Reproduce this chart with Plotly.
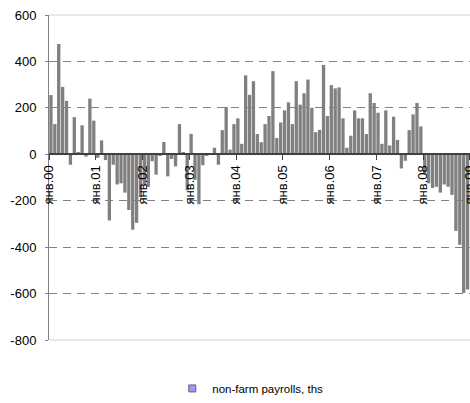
import numpy as np
import plotly.graph_objects as go

# Monthly change in US non-farm payrolls, thousands (Jan 2000 - Dec 2008)
payrolls_2000 = [255, 130, 475, 290, 230, -45, 160, 10, 125, -10, 240, 145]
payrolls_2001 = [-15, 60, -25, -285, -45, -130, -125, -165, -240, -325, -295, -185]
payrolls_2002 = [-130, -140, -30, -88, -5, 53, -95, -20, -52, 130, 10, -155]
payrolls_2003 = [88, -110, -215, -47, -5, 5, 28, -45, 104, 204, 20, 130]
payrolls_2004 = [155, 45, 340, 256, 315, 87, 52, 130, 165, 358, 70, 137]
payrolls_2005 = [189, 224, 130, 315, 214, 263, 322, 200, 95, 105, 385, 165]
payrolls_2006 = [298, 284, 288, 155, 28, 80, 189, 155, 155, 87, 263, 221]
payrolls_2007 = [179, 45, 189, 38, 162, 62, -61, -28, 104, 172, 221, 120]
payrolls_2008 = [-85, -125, -145, -140, -165, -130, -140, -175, -330, -390, -597, -582]

year_tick_labels = ["янв.00", "янв.01", "янв.02", "янв.03", "янв.04",
                    "янв.05", "янв.06", "янв.07", "янв.08", "янв.09"]
y_tick_values = [600, 400, 200, 0, -200, -400, -600, -800]
y_tick_labels = ["600", "400", "200", "0", "-200", "-400", "-600", "-800"]
series_name = "non-farm payrolls, ths"

values = (payrolls_2000 + payrolls_2001 + payrolls_2002 + payrolls_2003 +
          payrolls_2004 + payrolls_2005 + payrolls_2006 + payrolls_2007 +
          payrolls_2008)
month_index = np.arange(len(values))
year_tick_pos = [12 * k - 0.45 for k in range(len(year_tick_labels))]

FONT = "Liberation Sans, Arial, sans-serif"
GRID = "#808080"

fig = go.Figure()
fig.add_trace(go.Bar(
    x=month_index, y=values,
    marker=dict(color="#808080", line=dict(width=0)),
    showlegend=False, name=series_name,
))
# legend key (as in the original, lavender square)
fig.add_trace(go.Scatter(
    x=[None], y=[None], mode="markers", name=series_name,
    marker=dict(symbol="square", size=7, color="#9999ff",
                line=dict(color="#666666", width=1)),
))

y_min, y_max = -800, 600
zero_frac = (0 - y_min) / (y_max - y_min)

fig.update_layout(
    width=470, height=403,
    margin=dict(l=49, r=0, t=15, b=59),
    paper_bgcolor="white", plot_bgcolor="white",
    bargap=0.15,
    font=dict(family=FONT, color="#000000"),
    showlegend=True,
    legend=dict(orientation="h", x=0.478, xanchor="center",
                y=-0.149, yanchor="middle",
                font=dict(size=11.5, family=FONT), itemwidth=30,
                bgcolor="rgba(0,0,0,0)"),
    xaxis=dict(
        range=[-0.5, 107.62],
        anchor="free", position=zero_frac, automargin=False,
        tickmode="array", tickvals=year_tick_pos, ticktext=year_tick_labels,
        tickangle=-90, tickfont=dict(size=13, family=FONT),
        ticklabeloverflow="allow",
        ticks="outside", ticklen=5, tickcolor="#404040", tickwidth=1,
        showline=True, linecolor="#404040", linewidth=1.5,
        showgrid=False, zeroline=False,
    ),
    yaxis=dict(
        range=[y_min, y_max], automargin=False,
        tickmode="array", tickvals=y_tick_values, ticktext=y_tick_labels,
        tickfont=dict(size=13, family=FONT), ticklabeloverflow="allow",
        ticks="outside", ticklen=3, tickcolor=GRID, ticklabelstandoff=6,
        showline=True, linecolor=GRID, linewidth=1,
        showgrid=True, gridcolor=GRID, gridwidth=1, griddash="8px,6px",
        zeroline=False,
    ),
    shapes=[
        dict(type="line", xref="paper", yref="paper", x0=0, x1=1, y0=1, y1=1,
             line=dict(color="#d0d0d0", width=1), layer="below"),
        dict(type="line", xref="paper", yref="paper", x0=0, x1=1, y0=0, y1=0,
             line=dict(color="#d0d0d0", width=1), layer="below"),
    ],
)

# remove the default 8px page margin so the 470x403 figure fills the window
fig.write_html(
    "out.html",
    config={"displayModeBar": False},
    post_script="document.body.style.margin='0';"
                "document.body.style.overflow='hidden';",
)
